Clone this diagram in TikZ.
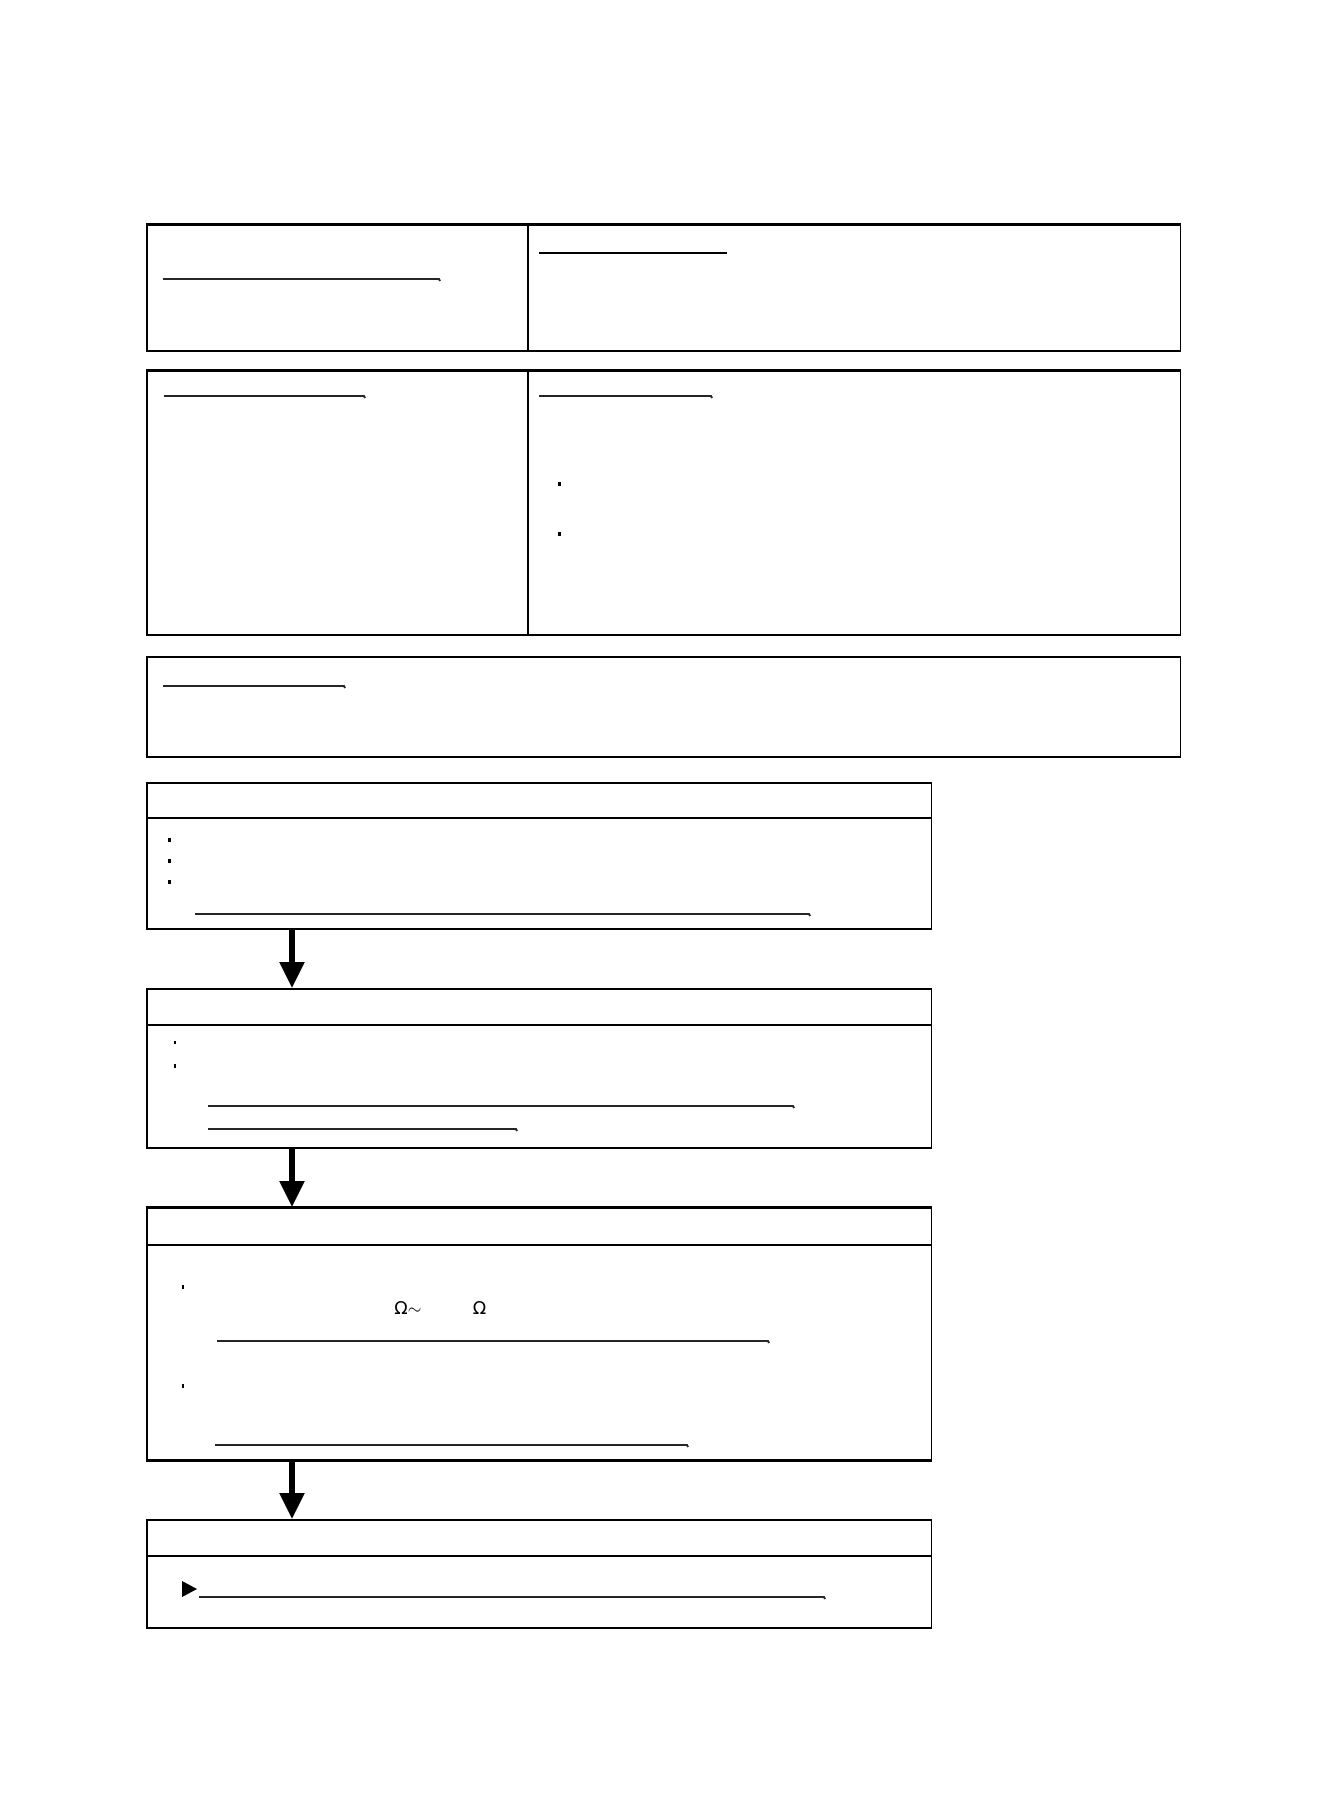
\documentclass[tikz,border=0pt]{standalone}
\usepackage{fontspec}
\usepackage{tikz}
\usepackage{xcolor}
\usetikzlibrary{arrows.meta,positioning}
\newfontfamily\omegafont{DejaVu Sans}

\tikzset{
  panel/.style={rectangle,draw=black,line width=0.9pt,inner sep=0pt,anchor=north west},
  uline/.style={draw=black!85,line width=1.1pt},
  headline/.style={draw=black,line width=1.5pt},
  flow/.style={line width=0.11cm,-{Triangle[length=0.52cm,width=0.48cm]}}
}

\begin{document}
\begin{tikzpicture}[x=0.02cm,y=-0.02cm]
\useasboundingbox (0,0) rectangle (1328,1820);
% top panels
\node (box1) at (146,224) [panel,minimum width=20.68cm,minimum height=2.52cm]{};
\node (box2) at (146,370) [panel,minimum width=20.68cm,minimum height=5.28cm]{};
\node (box3) at (146,656) [panel,minimum width=20.68cm,minimum height=2.0cm]{};
\draw[line width=1.4pt] (box1.north west) -- (box1.north east);
\draw[line width=1.4pt] (box2.north west) -- (box2.north east);
\draw[line width=0.9pt] (528,224) -- (528,350);
\draw[line width=0.9pt] (528,370) -- (528,634);
% flow steps
\node (step1) at (146,782) [panel,minimum width=15.7cm,minimum height=2.92cm]{};
\node (step2) at (146,988) [panel,minimum width=15.7cm,minimum height=3.18cm]{};
\node (step3) at (146,1207) [panel,minimum width=15.7cm,minimum height=5.04cm]{};
\node (step4) at (146,1519) [panel,minimum width=15.7cm,minimum height=2.16cm]{};
\draw[headline] (step1.west |- 0,818) -- (step1.east |- 0,818);
\draw[line width=0.9pt] (step2.west |- 0,1025) -- (step2.east |- 0,1025);
\draw[headline] (step3.west |- 0,1245) -- (step3.east |- 0,1245);
\draw[headline] (step4.west |- 0,1556) -- (step4.east |- 0,1556);
\draw[line width=1.4pt] (step3.north west) -- (step3.north east);
\draw[line width=1.4pt] (step3.south west) -- (step3.south east);
% arrows
\coordinate (ax) at (292,0);
\draw[flow] (step1.south -| ax) -- (step2.north -| ax);
\draw[flow] (step2.south -| ax) -- (step3.north -| ax);
\draw[flow] (step3.south -| ax) -- (step4.north -| ax);
% underlines
\draw[uline] (163,279) -- (439,279) -- ++(1,2);
\draw[draw=black,line width=1.6pt] (539,253) -- (727,253);
\draw[uline] (164,396) -- (364,396) -- ++(1,2);
\draw[uline] (539,396) -- (711,396) -- ++(1,2);
\draw[uline] (163,686) -- (344,686) -- ++(1,2);
\draw[uline] (195,914) -- (809,914) -- ++(1,2);
\draw[uline] (208,1106) -- (793,1106) -- ++(1,2);
\draw[uline] (208,1129) -- (516,1129) -- ++(1,2);
\draw[uline] (217,1341) -- (768,1341) -- ++(1,2);
\draw[uline] (215,1445) -- (687,1445) -- ++(1,2);
\draw[uline] (199,1597) -- (824,1597) -- ++(1,2);
% bullets
\fill (558,482) rectangle ++(3,4);
\fill (558,532) rectangle ++(3,4);
\fill (168,838) rectangle ++(3,4);
\fill (168,859) rectangle ++(3,4);
\fill (168,880) rectangle ++(3,4);
\fill (174,1041) rectangle ++(2,3);
\fill (174,1064) rectangle ++(2,4);
\fill (182,1285) rectangle ++(2,4);
\fill (182,1384) rectangle ++(2,4);
\fill (182,1581) -- (182,1597) -- (197,1589) -- cycle;
% resistance range
\node (ohm) at (394,1308) [anchor=west,inner sep=0pt,font=\omegafont\fontsize{10}{12}\selectfont]{Ω$\sim$\hspace{1.03cm}Ω};
\end{tikzpicture}
\end{document}
